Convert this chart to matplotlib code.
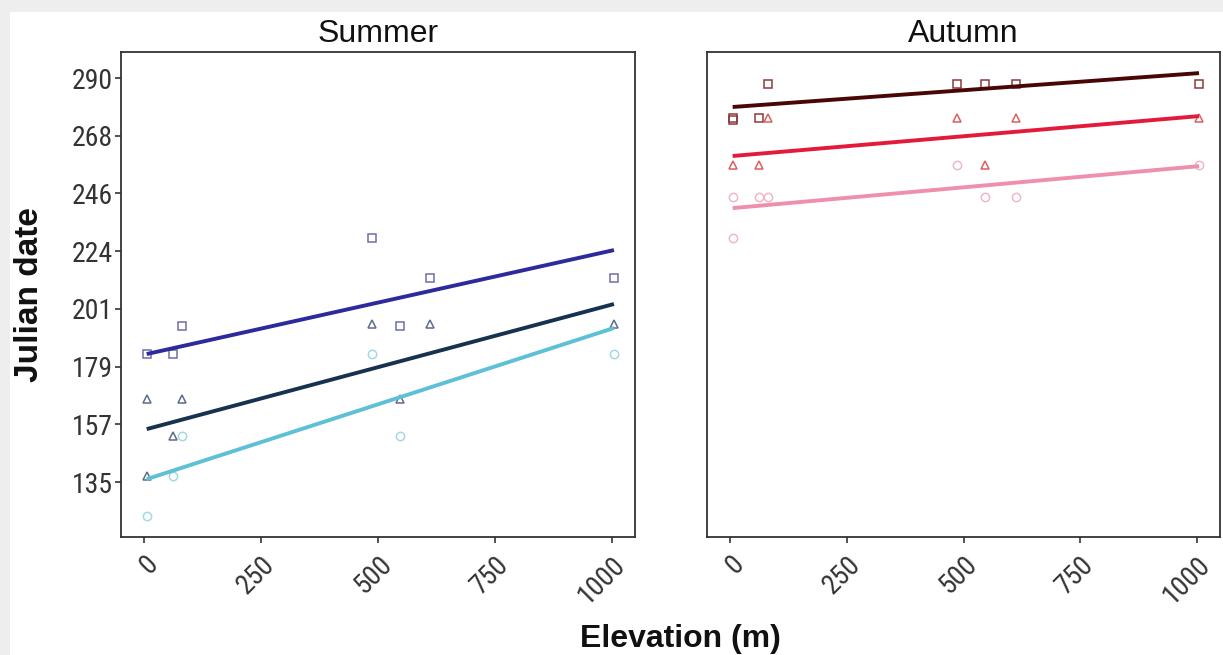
import numpy as np
import matplotlib
matplotlib.use("Agg")
import matplotlib.pyplot as plt
from matplotlib.patches import Rectangle
from matplotlib import font_manager

# ---------------- data ----------------
seasons = ["Summer", "Autumn"]
x_ticks = [0, 250, 500, 750, 1000]
y_ticks = list(np.linspace(135, 290, 8))
y_tick_labels = ["135", "157", "179", "201", "224", "246", "268", "290"]

# Summer
summer_sq_x = [5, 62, 80, 487, 547, 612, 1005]
summer_sq_y = [184, 184, 195, 228.6, 195, 213.3, 213.3]
summer_tri_x = [5, 5, 62, 80, 487, 547, 612, 1005]
summer_tri_y = [167, 137.3, 152.6, 167, 195.6, 167, 195.6, 195.6]
summer_circ_x = [5, 62, 80, 487, 547, 1005]
summer_circ_y = [122, 137.3, 152.6, 184, 152.6, 184]

# Autumn
autumn_sq_x = [5, 5, 62, 80, 487, 547, 612, 1005]
autumn_sq_y = [274.7, 273.8, 274.7, 287.7, 287.7, 287.7, 287.7, 287.7]
autumn_tri_x = [5, 62, 80, 487, 547, 612, 1005]
autumn_tri_y = [256.6, 256.6, 274.7, 274.7, 256.6, 274.7, 274.7]
autumn_circ_x = [5, 5, 62, 80, 487, 547, 612, 1005]
autumn_circ_y = [244.3, 228.6, 244.3, 244.3, 256.6, 244.3, 244.3, 256.6]

# fitted trend lines (values at the ends of the elevation range)
fit_x = [5, 1005]
summer_fit_sq = [184.1, 224.0]
summer_fit_tri = [155.3, 203.3]
summer_fit_circ = [136.1, 194.1]
autumn_fit_sq = [278.9, 291.9]
autumn_fit_tri = [260.1, 275.4]
autumn_fit_circ = [240.1, 256.2]

# ---------------- fonts ----------------
avail = {f.name for f in font_manager.fontManager.ttflist}
base = "Liberation Sans" if "Liberation Sans" in avail else "DejaVu Sans"
narrow = base
for cand in ["Liberation Sans Narrow", "Arial Narrow", "Roboto Condensed",
             "Archivo Narrow"]:
    if cand in avail:
        narrow = cand
        break
plt.rcParams["font.family"] = [base, "DejaVu Sans"]
tick_size = 20 if narrow != base else 17

W, H = 1223, 655
fig = plt.figure(figsize=(W / 100, H / 100), dpi=100)
fig.patch.set_facecolor("#eeeeee")
fig.add_artist(Rectangle((10 / W, 0), 1 - 10 / W, (H - 12) / H,
                         transform=fig.transFigure, facecolor="white",
                         edgecolor="none", zorder=0))

ax1 = fig.add_axes([121 / W, (H - 537) / H, (635 - 121) / W, (537 - 52) / H])
ax2 = fig.add_axes([707 / W, (H - 537) / H, (1220 - 707) / W, (537 - 52) / H])

panels = [
    (ax1, "Summer",
     [(summer_sq_x, summer_sq_y, "s", "#6f6fa8"),
      (summer_tri_x, summer_tri_y, "^", "#5f6b8a"),
      (summer_circ_x, summer_circ_y, "o", "#a3d9e3")],
     [(summer_fit_sq, "#2d2a9b"), (summer_fit_tri, "#16324f"),
      (summer_fit_circ, "#5ec0d6")]),
    (ax2, "Autumn",
     [(autumn_sq_x, autumn_sq_y, "s", "#8b3a3a"),
      (autumn_tri_x, autumn_tri_y, "^", "#d9605f"),
      (autumn_circ_x, autumn_circ_y, "o", "#f0b8c4")],
     [(autumn_fit_sq, "#4a0606"), (autumn_fit_tri, "#e31a3a"),
      (autumn_fit_circ, "#ee8fab")]),
]

for ax, title, pts, fits in panels:
    ax.set_facecolor("white")
    for xs, ys, mk, col in pts:
        ax.plot(xs, ys, linestyle="none", marker=mk, markersize=6,
                markerfacecolor="none", markeredgecolor=col,
                markeredgewidth=1.1, zorder=2)
    for ys, col in fits:
        ax.plot(fit_x, ys, color=col, linewidth=2.8,
                solid_capstyle="butt", zorder=3)
    ax.set_xlim(-50, 1050)
    ax.set_ylim(113.9, 300.0)
    ax.set_xticks(x_ticks)
    ax.set_xticklabels([str(v) for v in x_ticks], rotation=45,
                       ha="right", va="top", rotation_mode="anchor",
                       fontsize=tick_size, family=[narrow, "DejaVu Sans"],
                       color="#333333")
    ax.tick_params(axis="x", length=4, width=1.2, color="#333333", pad=6)
    ax.set_title(title, fontsize=23, pad=7, color="#111111")
    for s in ax.spines.values():
        s.set_color("#333333")
        s.set_linewidth(1.3)

ax1.set_yticks(y_ticks)
ax1.set_yticklabels(y_tick_labels, fontsize=tick_size,
                    family=[narrow, "DejaVu Sans"], color="#333333")
ax1.tick_params(axis="y", length=4, width=1.2, color="#333333", pad=2)
ax2.set_yticks(y_ticks)
ax2.tick_params(axis="y", left=False, labelleft=False)

fig.text(30 / W, 1 - 295 / H, "Julian date", rotation=90, ha="center",
         va="center", fontsize=24, fontweight="bold", color="#111111")
fig.text(680 / W, (H - 647) / H, "Elevation (m)", ha="center",
         va="baseline", fontsize=23, fontweight="bold", color="#111111")

fig.savefig("out.png", dpi=100, facecolor=fig.get_facecolor())
